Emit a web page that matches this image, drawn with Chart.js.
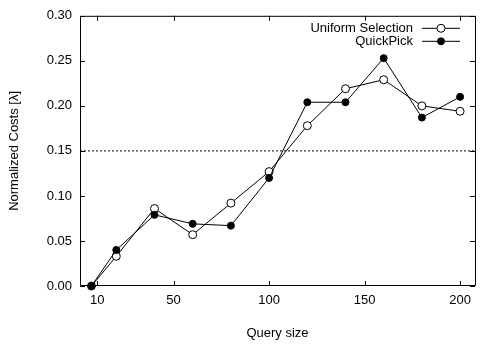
<!DOCTYPE html>
<html><head><meta charset="utf-8">
<script src="https://cdn.jsdelivr.net/npm/chart.js@4/dist/chart.umd.min.js"></script>
<style>html,body{margin:0;padding:0;background:#fff;}#wrap{width:480px;height:348px;}</style>
</head><body><div id="wrap"><canvas id="c" width="480" height="348"></canvas></div>
<script>
const querySizes = [7, 20, 40, 60, 80, 100, 120, 140, 160, 180, 200];
const uniformSelection = [0.000, 0.033, 0.086, 0.057, 0.092, 0.127, 0.178, 0.219, 0.229, 0.200, 0.194];
const quickPick = [0.000, 0.040, 0.079, 0.069, 0.067, 0.120, 0.204, 0.204, 0.253, 0.187, 0.210];
const xTickValues = [10, 50, 100, 150, 200];
const yTickValues = [0, 0.05, 0.10, 0.15, 0.20, 0.25, 0.30];
const thresholdValue = 0.15;
const seriesLabels = ['Uniform Selection', 'QuickPick'];
const xAxisTitle = 'Query size';
const yAxisTitle = 'Normalized Costs [λ]';
const xRange = [1, 207.8];
const yRange = [0, 0.30];

const FONT = '"Liberation Sans", Arial, Helvetica, sans-serif';
const toPts = (xs, ys) => xs.map((x, i) => ({x: x, y: ys[i]}));

const framePlugin = {
  id: 'frame',
  beforeDatasetsDraw(chart) {
    const {ctx, chartArea: ca, scales} = chart;
    ctx.save();
    ctx.strokeStyle = '#000';
    ctx.lineWidth = 1;
    ctx.beginPath();
    ctx.rect(ca.left + 0.5, ca.top + 0.5, ca.right - ca.left, ca.bottom - ca.top - 1);
    ctx.stroke();
    const L = 5;
    ctx.beginPath();
    scales.x.ticks.forEach(t => {
      const px = Math.round(scales.x.getPixelForValue(t.value)) + 0.5;
      ctx.moveTo(px, ca.bottom); ctx.lineTo(px, ca.bottom - L);
      ctx.moveTo(px, ca.top); ctx.lineTo(px, ca.top + L);
    });
    scales.y.ticks.forEach(t => {
      const py = Math.round(scales.y.getPixelForValue(t.value)) + 0.5;
      ctx.moveTo(ca.left, py); ctx.lineTo(ca.left + L, py);
      ctx.moveTo(ca.right, py); ctx.lineTo(ca.right - L, py);
    });
    ctx.stroke();
    ctx.restore();
  }
};

const legendPlugin = {
  id: 'customLegend',
  afterDraw(chart) {
    const {ctx, chartArea: ca} = chart;
    const ds = chart.data.datasets.filter(d => d.inLegend);
    ctx.save();
    ctx.font = '13px ' + FONT;
    ctx.textAlign = 'right';
    ctx.textBaseline = 'middle';
    ds.forEach((d, i) => {
      const y = ca.top + 12.5 + i * 13;
      ctx.fillStyle = '#000';
      ctx.fillText(d.label, ca.right - 62, y + 0.5);
      ctx.strokeStyle = '#000';
      ctx.lineWidth = 1;
      ctx.beginPath();
      ctx.moveTo(ca.right - 53, y); ctx.lineTo(ca.right - 15, y);
      ctx.stroke();
      ctx.beginPath();
      ctx.arc(ca.right - 34, y, d.pointRadius, 0, Math.PI * 2);
      ctx.fillStyle = d.pointBackgroundColor;
      ctx.fill();
      ctx.stroke();
    });
    ctx.restore();
  }
};

new Chart(document.getElementById('c'), {
  type: 'line',
  data: {
    datasets: [
      {
        label: seriesLabels[0], inLegend: true,
        data: toPts(querySizes, uniformSelection),
        borderColor: '#000', borderWidth: 1,
        pointRadius: 4, pointBorderWidth: 1,
        pointBackgroundColor: '#fff', pointBorderColor: '#000',
        tension: 0, clip: false, order: 1
      },
      {
        label: seriesLabels[1], inLegend: true,
        data: toPts(querySizes, quickPick),
        borderColor: '#000', borderWidth: 1,
        pointRadius: 3.5, pointBorderWidth: 1,
        pointBackgroundColor: '#000', pointBorderColor: '#000',
        tension: 0, clip: false, order: 0
      },
      {
        label: 'threshold', inLegend: false,
        data: [{x: xRange[0], y: thresholdValue}, {x: xRange[1], y: thresholdValue}],
        borderColor: '#000', borderWidth: 1, borderDash: [2, 2],
        pointRadius: 0, tension: 0, clip: false, order: 2
      }
    ]
  },
  options: {
    responsive: false,
    animation: false,
    devicePixelRatio: 1,
    layout: {padding: {top: 12, right: 0, left: 0, bottom: 0}},
    plugins: {legend: {display: false}, tooltip: {enabled: false}},
    scales: {
      x: {
        type: 'linear', min: xRange[0], max: xRange[1],
        afterBuildTicks: s => { s.ticks = xTickValues.map(v => ({value: v})); },
        afterFit: s => { s.height = 62; },
        grid: {display: false, drawTicks: false},
        border: {display: false},
        ticks: {color: '#000', font: {family: FONT, size: 13}, padding: 7, maxRotation: 0, autoSkip: false,
                callback: v => String(v)},
        title: {display: true, text: xAxisTitle, color: '#000', font: {family: FONT, size: 13},
                padding: {top: 0, bottom: 7}}
      },
      y: {
        type: 'linear', min: yRange[0], max: yRange[1],
        afterBuildTicks: s => { s.ticks = yTickValues.map(v => ({value: v})); },
        afterFit: s => { s.width = 80; },
        grid: {display: false, drawTicks: false},
        border: {display: false},
        ticks: {color: '#000', font: {family: FONT, size: 13}, padding: 8, autoSkip: false,
                callback: v => Number(v).toFixed(2)},
        title: {display: true, text: yAxisTitle, color: '#000', font: {family: FONT, size: 13},
                padding: {top: 7, bottom: 0}}
      }
    }
  },
  plugins: [framePlugin, legendPlugin]
});
</script></body></html>
